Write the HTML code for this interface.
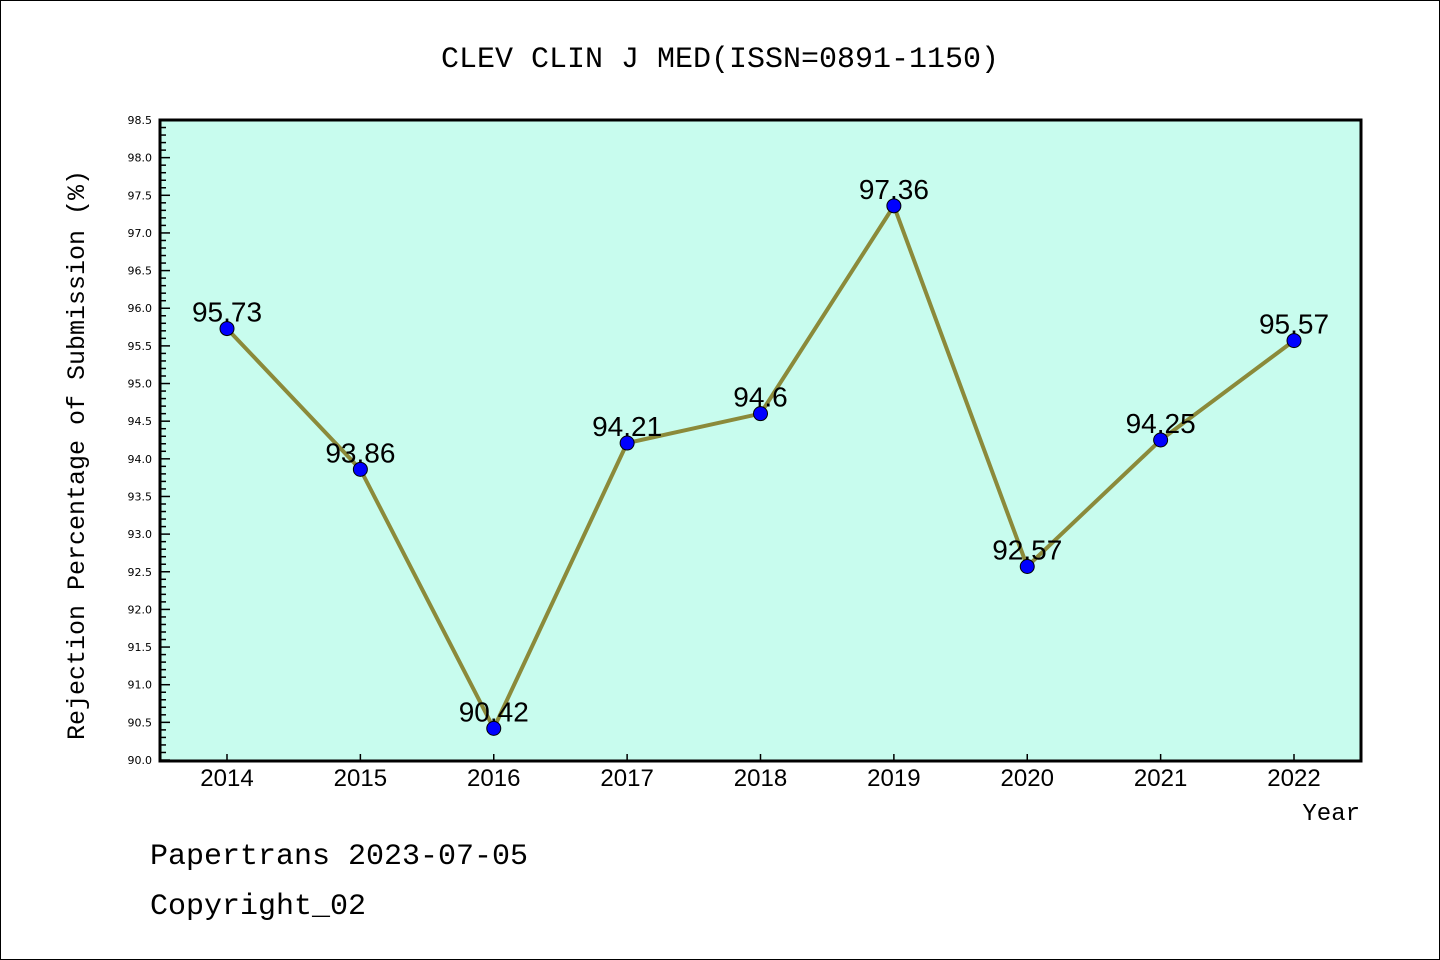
<!DOCTYPE html>
<html><head><meta charset="utf-8"><style>
body{margin:0;background:#fff}
svg{display:block;font-family:"Liberation Mono","DejaVu Sans Mono",monospace}
</style></head><body>
<svg id="chart" width="1440" height="960" xmlns="http://www.w3.org/2000/svg">
<rect x="0.5" y="0.5" width="1439" height="959" fill="#fff" stroke="#000"/>
<text x="720" y="67" font-size="30" text-anchor="middle">CLEV CLIN J MED(ISSN=0891-1150)</text>
<rect x="160" y="120" width="1201" height="641" fill="#c8fcee" stroke="#000" stroke-width="3"/>
<g id="axes"></g>
<g id="series"></g>
<text x="0" y="0" font-size="25" text-anchor="middle" transform="translate(84,455) rotate(-90)">Rejection Percentage of Submission (%)</text>
<text x="1360" y="820" font-size="24" text-anchor="end">Year</text>
<text x="150" y="864" font-size="30">Papertrans 2023-07-05</text>
<text x="150" y="914" font-size="30">Copyright_02</text>
</svg>
<script>
const years = ["2014","2015","2016","2017","2018","2019","2020","2021","2022"];
const values = [95.73,93.86,90.42,94.21,94.6,97.36,92.57,94.25,95.57];
const valueLabels = ["95.73","93.86","90.42","94.21","94.6","97.36","92.57","94.25","95.57"];
const yTicks = ["90.0","90.5","91.0","91.5","92.0","92.5","93.0","93.5","94.0","94.5","95.0","95.5","96.0","96.5","97.0","97.5","98.0","98.5"];
const NS="http://www.w3.org/2000/svg";
const yMin=90, yMax=98.5, plotTop=120, plotBot=760, plotLeft=160;
const sy=v=>plotBot-(v-yMin)/(yMax-yMin)*(plotBot-plotTop);
const sx=i=>227+i*(1294-227)/(years.length-1);
function mk(t,a,p){const e=document.createElementNS(NS,t);for(const k in a)e.setAttribute(k,a[k]);p.appendChild(e);return e;}
const axes=document.getElementById('axes'), ser=document.getElementById('series');
for(let k=0;k<=85;k++){
  const v=yMin+k*0.1;
  const major=k%5===0;
  const l=mk('line',{x1:plotLeft,x2:plotLeft+(major?10:6),y1:sy(v),y2:sy(v),stroke:'#000','stroke-width':1.5},axes);
  
  
}
yTicks.forEach(t=>{
  const e=mk('text',{x:152,y:sy(parseFloat(t))+4,'font-size':11,'text-anchor':'end','font-family':'DejaVu Sans, sans-serif'},axes);
  e.textContent=t;
  
  
});
years.forEach((yr,i)=>{
  const l=mk('line',{x1:sx(i),x2:sx(i),y1:plotBot,y2:plotBot-6,stroke:'#000','stroke-width':1.5},axes);
  
  
  const e=mk('text',{x:sx(i),y:786,'font-size':24,'text-anchor':'middle','font-family':'Liberation Sans, sans-serif'},axes);
  e.textContent=yr;
  
  
});
const pl=mk('polyline',{points:values.map((v,i)=>sx(i)+','+sy(v)).join(' '),fill:'none',stroke:'#8b8a3a','stroke-width':4},ser);


values.forEach((v,i)=>{
  const c=mk('circle',{cx:sx(i),cy:sy(v),r:7,fill:'#0000ff',stroke:'#000','stroke-width':1},ser);
  
  
  const t=mk('text',{x:sx(i),y:sy(v)-7,'font-size':28,'text-anchor':'middle','font-family':'Liberation Sans, sans-serif'},ser);
  t.textContent=valueLabels[i];
  
  
});
</script>
</body></html>
